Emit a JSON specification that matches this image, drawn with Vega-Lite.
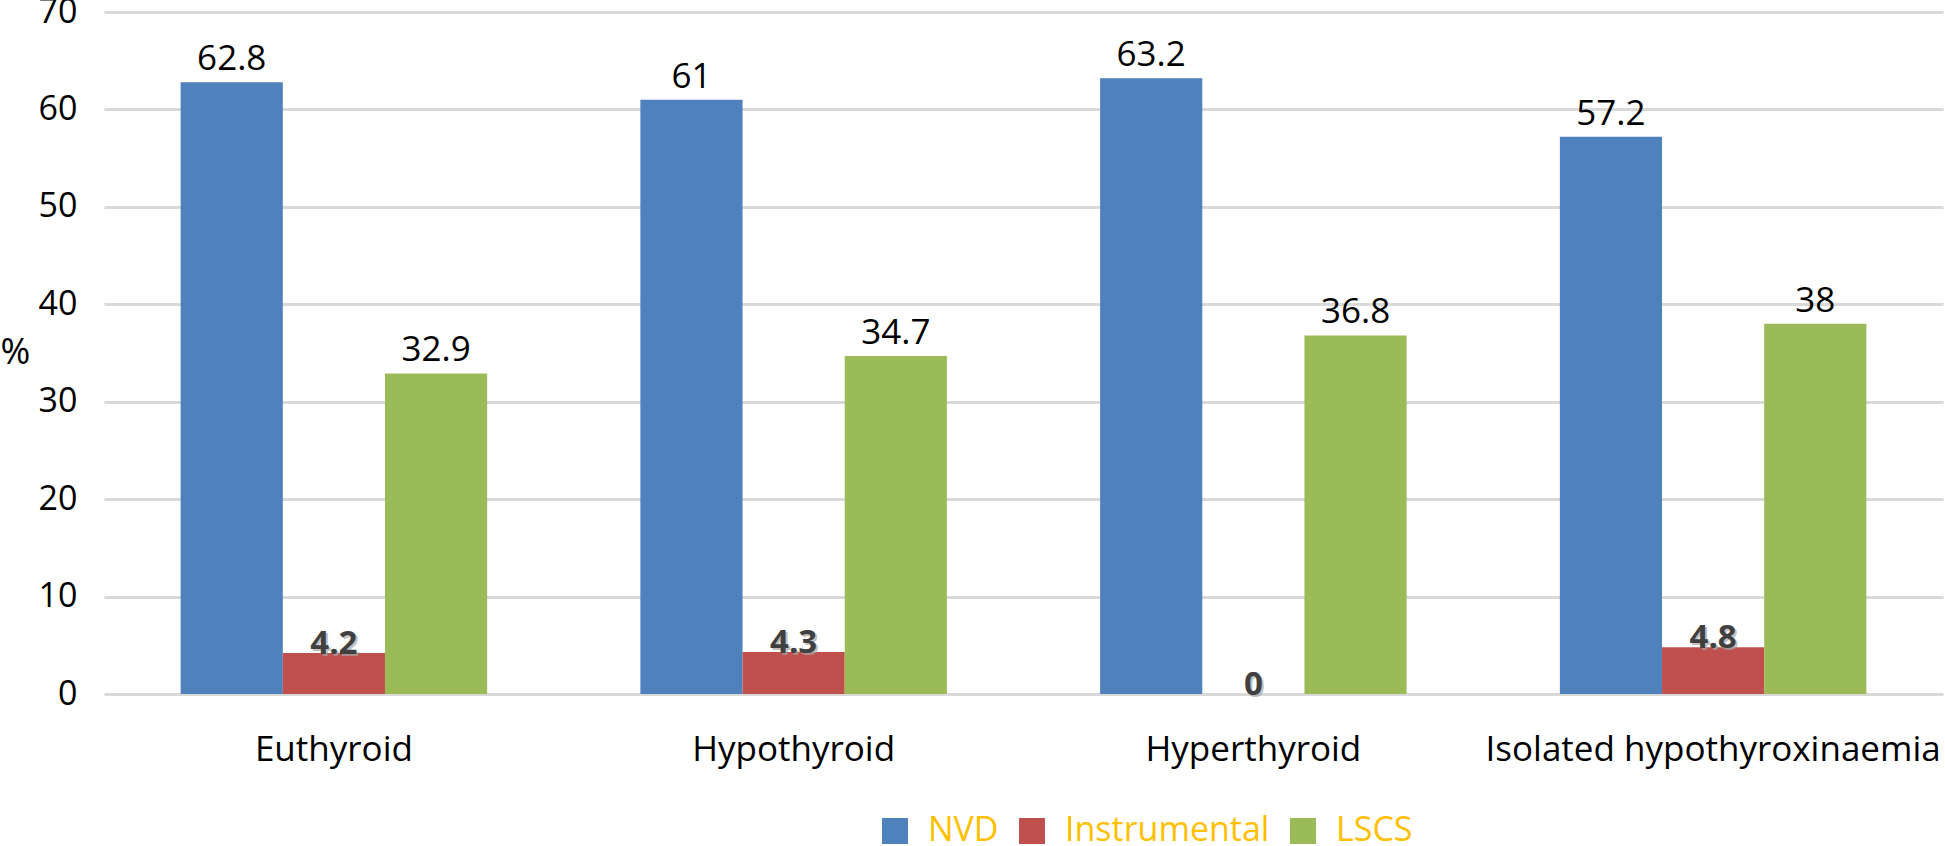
{
  "$schema": "https://vega.github.io/schema/vega-lite/v6.json",
  "autosize": "none",
  "padding": {"left": 104, "top": 12, "right": 2, "bottom": 152},
  "width": 1839,
  "height": 682,
  "background": "white",
  "config": {
    "view": {"stroke": null},
    "font": "Open Sans"
  },
  "data": {
    "values": [
      {"group": "Euthyroid", "series": "NVD", "value": 62.8},
      {"group": "Euthyroid", "series": "Instrumental", "value": 4.2},
      {"group": "Euthyroid", "series": "LSCS", "value": 32.9},
      {"group": "Hypothyroid", "series": "NVD", "value": 61},
      {"group": "Hypothyroid", "series": "Instrumental", "value": 4.3},
      {"group": "Hypothyroid", "series": "LSCS", "value": 34.7},
      {"group": "Hyperthyroid", "series": "NVD", "value": 63.2},
      {"group": "Hyperthyroid", "series": "Instrumental", "value": 0},
      {"group": "Hyperthyroid", "series": "LSCS", "value": 36.8},
      {"group": "Isolated hypothyroxinaemia", "series": "NVD", "value": 57.2},
      {"group": "Isolated hypothyroxinaemia", "series": "Instrumental", "value": 4.8},
      {"group": "Isolated hypothyroxinaemia", "series": "LSCS", "value": 38}
    ]
  },
  "encoding": {
    "x": {
      "field": "group",
      "type": "nominal",
      "sort": ["Euthyroid", "Hypothyroid", "Hyperthyroid", "Isolated hypothyroxinaemia"],
      "scale": {"paddingInner": 0.3333, "paddingOuter": 0.1667},
      "axis": {
        "title": null,
        "labelAngle": 0,
        "domain": false,
        "ticks": false,
        "labelPadding": 38,
        "labelFontSize": 35,
        "labelColor": "#000000",
        "labelFont": "Open Sans",
        "labelLimit": 0
      }
    },
    "xOffset": {
      "field": "series",
      "type": "nominal",
      "sort": ["NVD", "Instrumental", "LSCS"],
      "scale": {"paddingInner": 0, "paddingOuter": 0}
    },
    "y": {
      "field": "value",
      "type": "quantitative",
      "scale": {"domain": [0, 70], "nice": false},
      "axis": {
        "values": [0, 10, 20, 30, 40, 50, 60, 70],
        "title": "%",
        "titleAngle": 0,
        "titleX": -104,
        "titleY": 340,
        "titleAlign": "left",
        "titleBaseline": "middle",
        "titleFontSize": 36,
        "titleFontWeight": "normal",
        "titleColor": "#000000",
        "titleFont": "Open Sans",
        "domain": false,
        "ticks": false,
        "labelPadding": 27,
        "labelFontSize": 34,
        "labelColor": "#000000",
        "labelFont": "Open Sans",
        "gridColor": "#D9D9D9",
        "gridWidth": 3
      }
    }
  },
  "layer": [
    {
      "mark": {"type": "bar"},
      "encoding": {
        "color": {
          "field": "series",
          "type": "nominal",
          "sort": ["NVD", "Instrumental", "LSCS"],
          "scale": {"domain": ["NVD", "Instrumental", "LSCS"], "range": ["#4F81BD", "#C0504D", "#9BBB59"]},
          "legend": {
            "title": null,
            "orient": "none",
            "direction": "horizontal",
            "legendX": 774,
            "legendY": 802,
            "symbolType": "square",
            "symbolSize": 676,
            "symbolStrokeWidth": 0,
            "symbolOpacity": 1,
            "labelFontSize": 34,
            "labelColor": "#FFC000",
            "labelFont": "Open Sans",
            "labelLimit": 0,
            "labelOffset": 16,
            "columnPadding": 16,
            "padding": 0
          }
        }
      }
    },
    {
      "transform": [{"filter": "datum.series !== 'Instrumental'"}],
      "mark": {"type": "text", "baseline": "alphabetic", "dy": -12, "fontSize": 35, "color": "#000000", "font": "Open Sans"},
      "encoding": {"text": {"field": "value", "type": "quantitative"}}
    },
    {
      "transform": [{"filter": "datum.series === 'Instrumental'"}],
      "mark": {"type": "text", "baseline": "alphabetic", "dy": 3, "dx": 2, "fontSize": 33, "fontWeight": "bold", "color": "#A6A6A6", "opacity": 0.7, "font": "Open Sans"},
      "encoding": {"text": {"field": "value", "type": "quantitative"}}
    },
    {
      "transform": [{"filter": "datum.series === 'Instrumental'"}],
      "mark": {"type": "text", "baseline": "alphabetic", "dy": 1, "fontSize": 33, "fontWeight": "bold", "color": "#404040", "font": "Open Sans"},
      "encoding": {"text": {"field": "value", "type": "quantitative"}}
    }
  ]
}
